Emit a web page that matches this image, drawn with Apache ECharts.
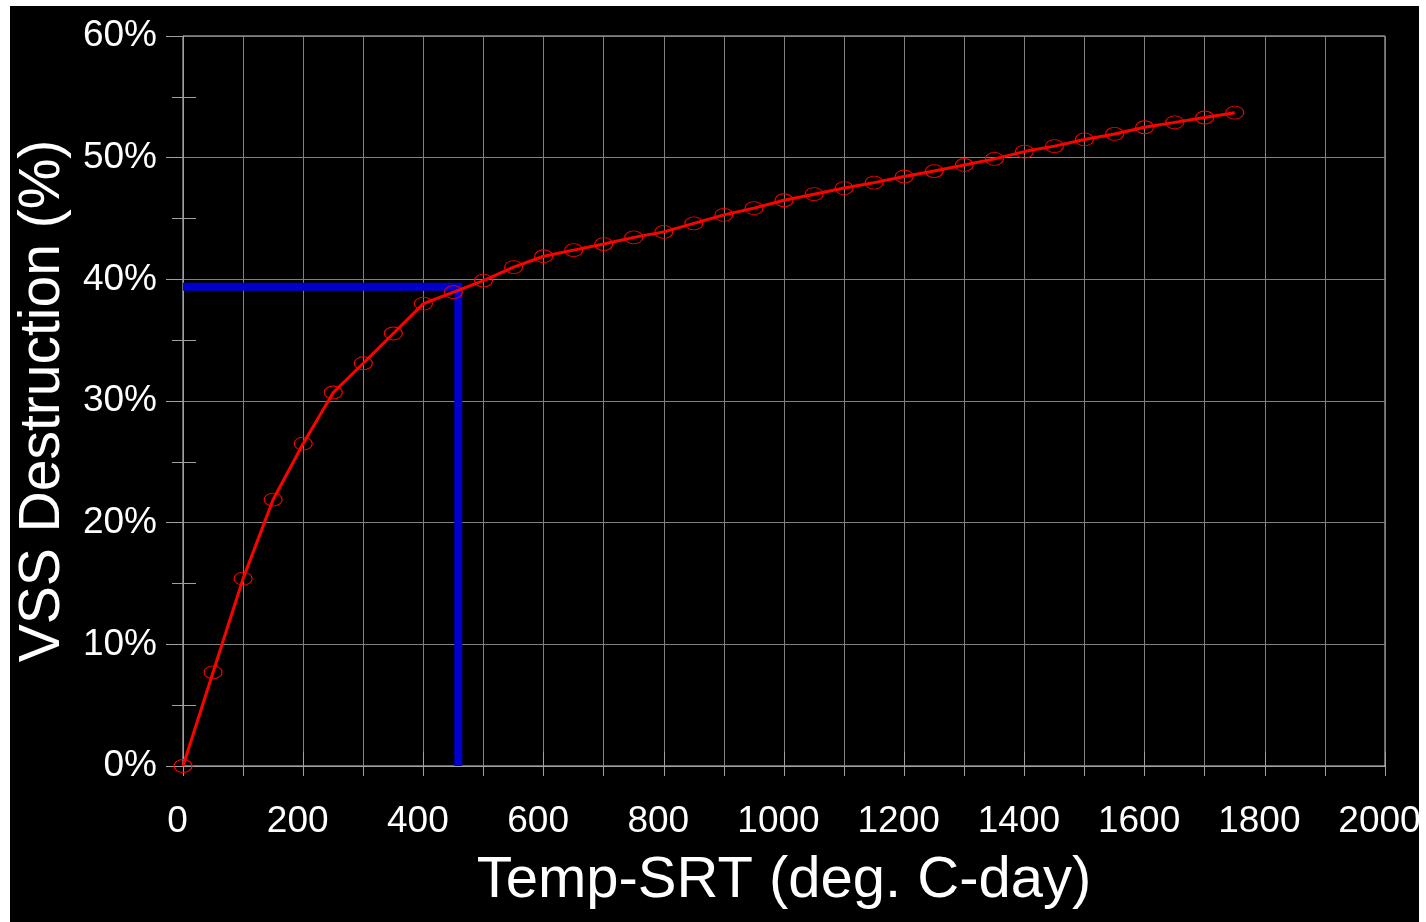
<!DOCTYPE html>
<html>
<head>
<meta charset="utf-8">
<script src="https://cdn.jsdelivr.net/npm/echarts@6/dist/echarts.min.js"></script>
<style>
    html, body { margin: 0; padding: 0; background: #ffffff; width: 1426px; height: 922px; overflow: hidden; }
    #chart { position: absolute; left: 10px; top: 6px; width: 1409px; height: 916px; }
</style>
</head>
<body>
<div id="chart"></div>
<script>
// temp-SRT (deg. C-day) and VSS destruction (%)
var tempSrt = [0, 50, 100, 150, 200, 250, 300, 350, 400, 450, 500, 550, 600, 650, 700, 750, 800, 850,
    900, 950, 1000, 1050, 1100, 1150, 1200, 1250, 1300, 1350, 1400, 1450, 1500, 1550, 1600, 1650, 1700, 1750];
var vssDestruction = [0, 7.7, 15.4, 21.9, 26.5, 30.7, 33.1, 35.55, 38.0, 38.95, 39.9, 41.0, 41.9, 42.4, 42.9, 43.45, 43.9, 44.6,
    45.3, 45.85, 46.5, 47.0, 47.5, 47.95, 48.45, 48.9, 49.4, 49.9, 50.5, 50.95, 51.5, 51.95, 52.5, 52.9, 53.3, 53.7];
// blue read-off lines
var targetX = [0, 458, 458];
var targetY = [39.4, 39.4, 0];

var xTicks = { min: 0, max: 2000, step: 100, labelStep: 200 };
var yTicks = { min: 0, max: 60, step: 10 };

var myChart = echarts.init(document.getElementById('chart'));

var font = 'Liberation Sans, Arial, sans-serif';

function pairs(xs, ys) {
    var out = [];
    for (var i = 0; i < xs.length; i++) out.push([xs[i], ys[i]]);
    return out;
}

var option = {
    backgroundColor: '#000000',
    animation: false,
    grid: {
        left: 173,
        right: 34,
        top: 30,
        bottom: 156,
        outerBoundsMode: 'none',
        containLabel: false,
        show: true,
        borderColor: '#d0d0d0',
        borderWidth: 1
    },
    xAxis: [{
        type: 'value',
        min: xTicks.min,
        max: xTicks.max,
        interval: xTicks.step,
        name: 'Temp-SRT (deg. C-day)',
        nameLocation: 'middle',
        nameGap: 86,
        nameTextStyle: { color: '#ffffff', fontSize: 58, fontFamily: font },
        axisLine: { lineStyle: { color: '#a0a0a0', width: 1 } },
        axisTick: { show: true, length: 10, lineStyle: { color: '#a0a0a0' } },
        axisLabel: {
            color: '#ffffff', fontSize: 37, fontFamily: font, margin: 37,
            padding: [0, 11, 0, 0],
            formatter: function (v) { return v % xTicks.labelStep === 0 ? String(v) : ''; }
        },
        splitLine: { show: true, lineStyle: { color: '#808080', width: 1 } }
    }, {
        type: 'value',
        position: 'bottom',
        min: xTicks.min,
        max: xTicks.max,
        interval: xTicks.labelStep,
        axisLine: { show: false },
        axisTick: { show: true, inside: true, length: 14, lineStyle: { color: '#a0a0a0' } },
        axisLabel: { show: false },
        splitLine: { show: false }
    }],
    yAxis: [{
        type: 'value',
        min: yTicks.min,
        max: yTicks.max,
        interval: yTicks.step,
        name: 'VSS Destruction (%)',
        nameLocation: 'middle',
        nameGap: 105,
        nameTextStyle: { color: '#ffffff', fontSize: 57, fontFamily: font },
        axisLine: { show: true, lineStyle: { color: '#a0a0a0', width: 1 } },
        axisTick: { show: true, length: 17, lineStyle: { color: '#a0a0a0' } },
        minorTick: { show: true, splitNumber: 2, length: 11, lineStyle: { color: '#a0a0a0' } },
        axisLabel: { color: '#ffffff', fontSize: 37, fontFamily: font, margin: 26, formatter: '{value}%' },
        splitLine: { show: true, lineStyle: { color: '#808080', width: 1 } }
    }, {
        type: 'value',
        position: 'left',
        min: yTicks.min,
        max: yTicks.max,
        interval: yTicks.step,
        axisLine: { show: false },
        axisTick: { show: false, inside: true },
        minorTick: { show: true, splitNumber: 2, length: 13, lineStyle: { color: '#a0a0a0' } },
        axisLabel: { show: false },
        splitLine: { show: false }
    }],
    series: [{
        name: 'target',
        type: 'line',
        xAxisIndex: 0,
        yAxisIndex: 0,
        symbol: 'none',
        lineStyle: { color: '#0000cc', width: 8, join: 'miter', cap: 'butt' },
        data: pairs(targetX, targetY)
    }, {
        name: 'VSS',
        type: 'line',
        xAxisIndex: 0,
        yAxisIndex: 0,
        symbol: 'circle',
        symbolSize: [18, 13],
        showAllSymbol: true,
        lineStyle: { color: '#ff0000', width: 3 },
        itemStyle: { color: 'rgba(0,0,0,0)', borderColor: '#ff0000', borderWidth: 1 },
        data: pairs(tempSrt, vssDestruction)
    }]
};

myChart.clear();
myChart.setOption(option);
</script>
</body>
</html>
